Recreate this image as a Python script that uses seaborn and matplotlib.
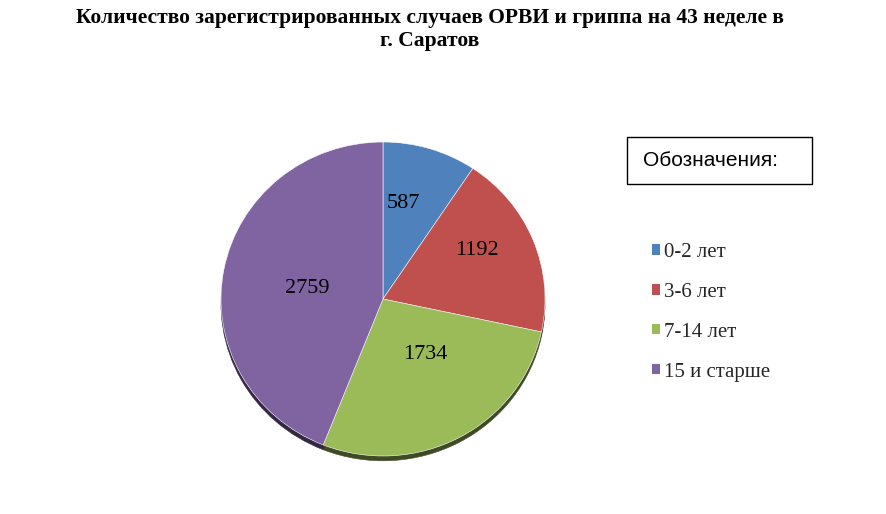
import matplotlib
matplotlib.use("Agg")
import matplotlib.pyplot as plt
import matplotlib.patches as mpatches
import numpy as np
import seaborn as sns

# данные
categories = ["0-2 лет", "3-6 лет", "7-14 лет", "15 и старше"]
values = [587, 1192, 1734, 2759]
colors = ["#4F81BD", "#C0504D", "#9BBB59", "#8064A2"]
title = "Количество зарегистрированных случаев ОРВИ и гриппа на 43 неделе в\nг. Саратов"

sns.set_theme(style="white")
plt.rcParams["font.family"] = ["Liberation Serif", "DejaVu Serif"]

W, H = 887, 514
fig = plt.figure(figsize=(W / 100, H / 100), dpi=100)
fig.patch.set_facecolor("white")

# круговая диаграмма (слегка наклонена, как в Excel): центр (383, 299)
cx, cy, rx, ry = 383, 299, 162, 157
ax = fig.add_axes([(cx - rx) / W, (H - cy - ry) / H, 2 * rx / W, 2 * ry / H])
wedges, texts = ax.pie(values, colors=colors, startangle=90, counterclock=False,
                       radius=1.0, wedgeprops=dict(linewidth=0.4, edgecolor="white"),
                       shadow=dict(ox=0.0, oy=-0.022, shade=0.6, alpha=1.0))
ax.set_xlim(-1, 1)
ax.set_ylim(-1, 1)
ax.set_aspect("auto")
ax.axis("off")

# подписи значений внутри секторов
label_dist = [0.62, 0.66, 0.44, 0.475]
label_shift = [5, 6, 8, 3]  # смещение угла, градусы
for w, v, d, s in zip(wedges, values, label_dist, label_shift):
    ang = np.deg2rad((w.theta1 + w.theta2) / 2 + s)
    ax.text(d * np.cos(ang), d * np.sin(ang), str(v), ha="center", va="center",
            fontsize=16, color="black")

fig.text(430 / W, 1 - 8 / H, title, ha="center", va="top", fontsize=15.5,
         fontweight="bold", linespacing=1.22, color="black")

# рамка "Обозначения:"
box = mpatches.Rectangle((627 / W, 1 - 184 / H), 185 / W, 47 / H, transform=fig.transFigure,
                         facecolor="white", edgecolor="black", linewidth=1.0)
fig.patches.append(box)
fig.text(643 / W, 1 - 161 / H, "Обозначения:", ha="left", va="center", fontsize=15,
         family=["Liberation Sans", "DejaVu Sans"], color="black")

handles = [mpatches.Patch(facecolor=c, edgecolor="none") for c in colors]
fig.legend(handles, categories, loc="upper left", bbox_to_anchor=(652 / W, 1 - 243 / H),
           frameon=False, fontsize=15, handlelength=0.38, handleheight=0.38,
           handletextpad=0.2, labelspacing=1.0, borderaxespad=0, borderpad=0)

fig.savefig("out.png", dpi=100, facecolor="white")
